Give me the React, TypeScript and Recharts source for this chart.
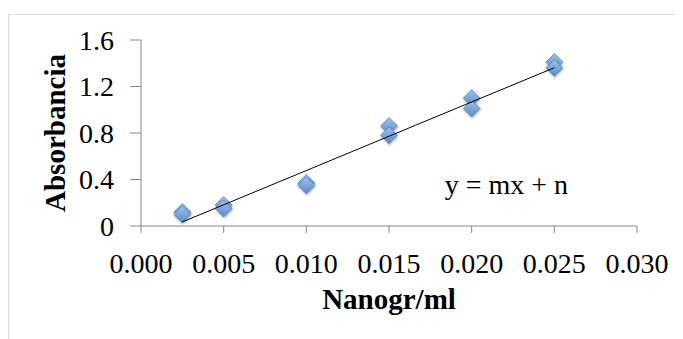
import { ScatterChart, Scatter, XAxis, YAxis, ReferenceDot } from 'recharts'

const concentrations = [0.0025, 0.005, 0.01, 0.015, 0.02, 0.025]
const absorbanceHigh = [0.12, 0.18, 0.37, 0.86, 1.1, 1.41]
const absorbanceLow = [0.1, 0.15, 0.35, 0.78, 1.01, 1.36]
const xTicks = [0, 0.005, 0.01, 0.015, 0.02, 0.025, 0.03]
const yTicks = [0, 0.4, 0.8, 1.2, 1.6]

const FONT = '"Liberation Serif", "Times New Roman", serif'
const AXIS_COLOR = '#868686'

const points = [
  ...concentrations.map((x, i) => ({ x, y: absorbanceHigh[i] })),
  ...concentrations.map((x, i) => ({ x, y: absorbanceLow[i] })),
]

// least squares trend line, drawn from first to last concentration
function fitLine(data: { x: number; y: number }[]) {
  const n = data.length
  const mx = data.reduce((s, p) => s + p.x, 0) / n
  const my = data.reduce((s, p) => s + p.y, 0) / n
  let sxy = 0
  let sxx = 0
  data.forEach((p) => {
    sxy += (p.x - mx) * (p.y - my)
    sxx += (p.x - mx) * (p.x - mx)
  })
  const m = sxy / sxx
  const b = my - m * mx
  const x0 = Math.min(...data.map((p) => p.x))
  const x1 = Math.max(...data.map((p) => p.x))
  return [
    { x: x0, y: m * x0 + b },
    { x: x1, y: m * x1 + b },
  ]
}

const trend = fitLine(points)

function Diamond(props: any) {
  const { cx, cy } = props
  if (cx == null || cy == null) return <g />
  const r = 8.5
  return (
    <polygon
      points={`${cx},${cy - r} ${cx + r},${cy} ${cx},${cy + r} ${cx - r},${cy}`}
      fill="url(#diamondFill)"
      stroke="#5384c0"
      strokeWidth={0.8}
      filter="url(#diamondShadow)"
    />
  )
}

const NoShape = () => <g />

function XTitle(props: any) {
  const { viewBox } = props
  return (
    <text
      x={viewBox.x + viewBox.width / 2}
      y={301}
      textAnchor="middle"
      fontFamily={FONT}
      fontWeight="bold"
      fontSize={29}
      fill="#000"
    >
      Nanogr/ml
    </text>
  )
}

function YTitle(props: any) {
  const { viewBox } = props
  const cy = viewBox.y + viewBox.height / 2
  return (
    <text
      x={57}
      y={cy}
      transform={`rotate(-90, 57, ${cy})`}
      textAnchor="middle"
      fontFamily={FONT}
      fontWeight="bold"
      fontSize={29}
      fill="#000"
    >
      Absorbancia
    </text>
  )
}

export default function App() {
  return (
    <div style={{ position: 'relative', width: 675, height: 331 }}>
      <div
        style={{
          position: 'absolute',
          top: 6,
          left: 0,
          right: 0,
          bottom: 0,
          borderTop: '1px solid #d9d9d9',
          borderLeft: '1px solid #d9d9d9',
        }}
      />
      <ScatterChart
        width={675}
        height={331}
        margin={{ top: 32, right: 46, bottom: 0, left: 0 }}
        style={{ position: 'absolute', top: 0, left: 0 }}
      >
        <defs>
          <linearGradient id="diamondFill" x1="0" y1="0" x2="0" y2="1">
            <stop offset="0%" stopColor="#a3c2ea" />
            <stop offset="100%" stopColor="#5a8ac6" />
          </linearGradient>
          <filter id="diamondShadow" x="-50%" y="-50%" width="200%" height="200%">
            <feDropShadow dx="0.5" dy="1.5" stdDeviation="1" floodColor="#000" floodOpacity="0.25" />
          </filter>
        </defs>
        <XAxis
          type="number"
          dataKey="x"
          domain={[0, 0.03]}
          ticks={xTicks}
          interval={0}
          height={113}
          tickFormatter={(v: number) => v.toFixed(3)}
          stroke={AXIS_COLOR}
          tickSize={7}
          tickMargin={20}
          tick={{ fill: '#000', fontSize: 28, fontFamily: FONT }}
          label={<XTitle />}
        />
        <YAxis
          type="number"
          dataKey="y"
          domain={[0, 1.6]}
          ticks={yTicks}
          interval={0}
          width={133}
          tickFormatter={(v: number) => (v === 0 ? '0' : v.toFixed(1))}
          stroke={AXIS_COLOR}
          tickSize={11}
          tickMargin={16}
          tick={{ fill: '#000', fontSize: 28, fontFamily: FONT }}
          label={<YTitle />}
        />
        <Scatter data={points} shape={<Diamond />} isAnimationActive={false} />
        <Scatter
          data={trend}
          line={{ stroke: '#000', strokeWidth: 1 }}
          shape={<NoShape />}
          isAnimationActive={false}
        />
        <ReferenceDot
          x={0.0221}
          y={0.36}
          r={0}
          fill="none"
          stroke="none"
          label={{ value: 'y = mx + n', position: 'center', fontSize: 28, fontFamily: FONT, fill: '#000' }}
        />
      </ScatterChart>
    </div>
  )
}
